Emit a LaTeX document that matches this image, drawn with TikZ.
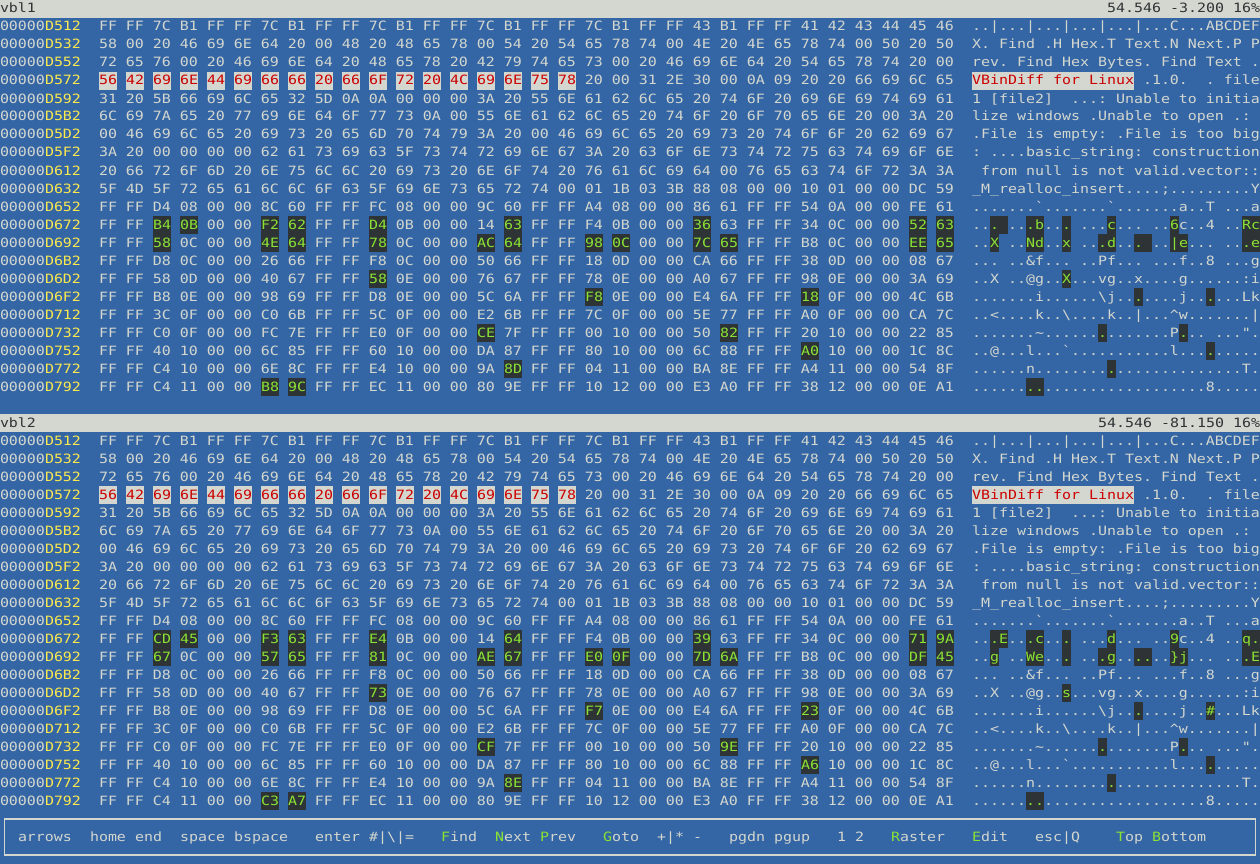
\documentclass[tikz,border=0pt]{standalone}
\usepackage{fontspec}
\setmonofont[FakeStretch=1.1679]{DejaVu Sans Mono}

\definecolor{termblue}{RGB}{52,101,164}
\definecolor{termfg}{RGB}{211,215,207}
\definecolor{termyellow}{RGB}{252,233,79}
\definecolor{difgreen}{RGB}{138,226,52}
\definecolor{difdark}{RGB}{46,52,54}
\definecolor{hitred}{RGB}{204,0,0}

% one dump line: pane offset, row, address, bytes, characters
\newcommand{\hexrow}[5]{%
  \node (adr-#3-#1) [term] at (0,{18*(#1+#2)+13}) {00000\textcolor{termyellow}{#3}};
  \node (hex-#3-#1) [term] at (99,{18*(#1+#2)+13}) {#4};
  \node (asc-#3-#1) [term] at (972,{18*(#1+#2)+13}) {#5};}

% a byte that differs: screen row, column, byte, character
\newcommand{\difcell}[4]{%
  \fill[difbg] ({99+27*#2},{18*#1}) rectangle +(18,18);
  \node (dh-#1-#2) [term, text=difgreen] at ({99+27*#2},{18*#1+13}) {#3};
  \fill[difbg] ({972+9*#2},{18*#1}) rectangle +(9,18);
  \node (da-#1-#2) [term, text=difgreen] at ({972+9*#2},{18*#1+13}) {#4};}

\newcommand{\hot}[1]{\textcolor{difgreen}{#1}}

\begin{document}
\begin{tikzpicture}[
    x=1pt, y=-1pt, % one unit per screen pixel, rows go down
    term/.style={font=\ttfamily\fontsize{12.8pt}{18pt}\selectfont\frenchspacing,
      text=termfg, anchor=base west, inner sep=0pt, outer sep=0pt}, % terminal text
    difbg/.style={fill=difdark}, % differing bytes
    hitbg/.style={fill=termfg}, % search match
    headbar/.style={fill=termfg}, % file title lines
    boxline/.style={draw=termfg, line width=1.2pt} % key help frame
  ]
    \useasboundingbox (0,0) rectangle (1260,864);
    \fill[termblue] (0,0) rectangle (1260,864);

    % Title lines
    \fill[headbar] (0,0) rectangle (1260,18);
    \fill[headbar] (0,414) rectangle (1260,432);
    \node (name1) [term, text=difdark] at (0,13)     {vbl1};
    \node (pos1)  [term, text=difdark] at (1107,13)  {54.546 -3.200 16\%};
    \node (name2) [term, text=difdark] at (0,427)    {vbl2};
    \node (pos2)  [term, text=difdark] at (1098,427) {54.546 -81.150 16\%};

    % Dump lines, the same in both panes
    \foreach \p in {0,23} {
      \hexrow{\p}{1}{D512}{FF FF 7C B1 FF FF 7C B1 FF FF 7C B1 FF FF 7C B1 FF FF 7C B1 FF FF 43 B1 FF FF 41 42 43 44 45 46}{..|...|...|...|...|...C...ABCDEF}
      \hexrow{\p}{2}{D532}{58 00 20 46 69 6E 64 20 00 48 20 48 65 78 00 54 20 54 65 78 74 00 4E 20 4E 65 78 74 00 50 20 50}{X. Find .H Hex.T Text.N Next.P P}
      \hexrow{\p}{3}{D552}{72 65 76 00 20 46 69 6E 64 20 48 65 78 20 42 79 74 65 73 00 20 46 69 6E 64 20 54 65 78 74 20 00}{rev. Find Hex Bytes. Find Text .}
      \hexrow{\p}{4}{D572}{56 42 69 6E 44 69 66 66 20 66 6F 72 20 4C 69 6E 75 78 20 00 31 2E 30 00 0A 09 20 20 66 69 6C 65}{VBinDiff for Linux .1.0.~~.~file}
      \hexrow{\p}{5}{D592}{31 20 5B 66 69 6C 65 32 5D 0A 0A 00 00 00 3A 20 55 6E 61 62 6C 65 20 74 6F 20 69 6E 69 74 69 61}{1 [file2]~~...: Unable to initia}
      \hexrow{\p}{6}{D5B2}{6C 69 7A 65 20 77 69 6E 64 6F 77 73 0A 00 55 6E 61 62 6C 65 20 74 6F 20 6F 70 65 6E 20 00 3A 20}{lize windows .Unable to open .:}
      \hexrow{\p}{7}{D5D2}{00 46 69 6C 65 20 69 73 20 65 6D 70 74 79 3A 20 00 46 69 6C 65 20 69 73 20 74 6F 6F 20 62 69 67}{.File is empty: .File is too big}
      \hexrow{\p}{8}{D5F2}{3A 20 00 00 00 00 62 61 73 69 63 5F 73 74 72 69 6E 67 3A 20 63 6F 6E 73 74 72 75 63 74 69 6F 6E}{: ....basic\_string: construction}
      \hexrow{\p}{9}{D612}{20 66 72 6F 6D 20 6E 75 6C 6C 20 69 73 20 6E 6F 74 20 76 61 6C 69 64 00 76 65 63 74 6F 72 3A 3A}{~from null is not valid.vector::}
      \hexrow{\p}{10}{D632}{5F 4D 5F 72 65 61 6C 6C 6F 63 5F 69 6E 73 65 72 74 00 01 1B 03 3B 88 08 00 00 10 01 00 00 DC 59}{\_M\_realloc\_insert....;.........Y}
      \hexrow{\p}{11}{D652}{FF FF D4 08 00 00 8C 60 FF FF FC 08 00 00 9C 60 FF FF A4 08 00 00 86 61 FF FF 54 0A 00 00 FE 61}{.......`.......`.......a..T ...a}
      \hexrow{\p}{12}{D672}{FF FF B4 0B 00 00 F2 62 FF FF D4 0B 00 00 14 63 FF FF F4 0B 00 00 36 63 FF FF 34 0C 00 00 52 63}{... ...b... ...c... ..6c..4 ..Rc}
      \hexrow{\p}{13}{D692}{FF FF 58 0C 00 00 4E 64 FF FF 78 0C 00 00 AC 64 FF FF 98 0C 00 00 7C 65 FF FF B8 0C 00 00 EE 65}{..X ..Nd..x ...d... ..|e... ...e}
      \hexrow{\p}{14}{D6B2}{FF FF D8 0C 00 00 26 66 FF FF F8 0C 00 00 50 66 FF FF 18 0D 00 00 CA 66 FF FF 38 0D 00 00 08 67}{... ..\&f... ..Pf... ...f..8 ...g}
      \hexrow{\p}{15}{D6D2}{FF FF 58 0D 00 00 40 67 FF FF 58 0E 00 00 76 67 FF FF 78 0E 00 00 A0 67 FF FF 98 0E 00 00 3A 69}{..X ..@g..X...vg..x....g......:i}
      \hexrow{\p}{16}{D6F2}{FF FF B8 0E 00 00 98 69 FF FF D8 0E 00 00 5C 6A FF FF F8 0E 00 00 E4 6A FF FF 18 0F 00 00 4C 6B}{.......i......\textbackslash{}j.......j......Lk}
      \hexrow{\p}{17}{D712}{FF FF 3C 0F 00 00 C0 6B FF FF 5C 0F 00 00 E2 6B FF FF 7C 0F 00 00 5E 77 FF FF A0 0F 00 00 CA 7C}{..<....k..\textbackslash{}....k..|...\textasciicircum{}w.......|}
      \hexrow{\p}{18}{D732}{FF FF C0 0F 00 00 FC 7E FF FF E0 0F 00 00 CE 7F FF FF 00 10 00 00 50 82 FF FF 20 10 00 00 22 85}{.......\textasciitilde{}..............P... ...".}
      \hexrow{\p}{19}{D752}{FF FF 40 10 00 00 6C 85 FF FF 60 10 00 00 DA 87 FF FF 80 10 00 00 6C 88 FF FF A0 10 00 00 1C 8C}{..@...l...`...........l.........}
      \hexrow{\p}{20}{D772}{FF FF C4 10 00 00 6E 8C FF FF E4 10 00 00 9A 8D FF FF 04 11 00 00 BA 8E FF FF A4 11 00 00 54 8F}{......n.......................T.}
      \hexrow{\p}{21}{D792}{FF FF C4 11 00 00 B8 9C FF FF EC 11 00 00 80 9E FF FF 10 12 00 00 E3 A0 FF FF 38 12 00 00 0E A1}{..........................8.....}
    }

    % Search match
    \foreach \p in {0,23} {
      \foreach \by [count=\i from 0] in {56,42,69,6E,44,69,66,66,20,66,6F,72,20,4C,69,6E,75,78} {
        \fill[hitbg] ({99+27*\i},{18*(\p+4)}) rectangle +(18,18);
        \node (hit-\p-\i) [term, text=hitred] at ({99+27*\i},{18*(\p+4)+13}) {\by};
      }
      \fill[hitbg] (972,{18*(\p+4)}) rectangle +(162,18);
      \node (hit-\p) [term, text=hitred] at (972,{18*(\p+4)+13}) {VBinDiff for Linux};
    }

    % Differences, top pane
    \foreach \row/\col/\by/\ch in {12/2/B4/., 12/3/0B/{}, 12/6/F2/., 12/7/62/b, 12/10/D4/., 12/15/63/c,
        12/22/36/6, 12/30/52/R, 12/31/63/c,
        13/2/58/X, 13/6/4E/N, 13/7/64/d, 13/10/78/x, 13/14/AC/., 13/15/64/d, 13/18/98/., 13/19/0C/{},
        13/22/7C/|, 13/23/65/e, 13/30/EE/., 13/31/65/e,
        15/10/58/X, 16/18/F8/., 16/26/18/., 18/14/CE/., 18/23/82/., 19/26/A0/., 20/15/8D/.,
        21/6/B8/., 21/7/9C/.}
      {\difcell{\row}{\col}{\by}{\ch}}

    % Differences, bottom pane
    \foreach \row/\col/\by/\ch in {35/2/CD/., 35/3/45/E, 35/6/F3/., 35/7/63/c, 35/10/E4/., 35/15/64/d,
        35/22/39/9, 35/30/71/q, 35/31/9A/.,
        36/2/67/g, 36/6/57/W, 36/7/65/e, 36/10/81/., 36/14/AE/., 36/15/67/g, 36/18/E0/., 36/19/0F/.,
        36/22/7D/\}, 36/23/6A/j, 36/30/DF/., 36/31/45/E,
        38/10/73/s, 39/18/F7/., 39/26/23/\#, 41/14/CF/., 41/23/9E/., 42/26/A6/., 43/15/8E/.,
        44/6/C3/., 44/7/A7/.}
      {\difcell{\row}{\col}{\by}{\ch}}

    % Key help line
    \draw[boxline] (4.5,819) rectangle (1255.5,855);
    \foreach \col/\word in {2/arrows, 10/home, 15/end, 20/space, 26/bspace, 35/enter,
        41/\#|\textbackslash|=, 49/\hot{F}ind, 55/\hot{N}ext, 60/\hot{P}rev, 67/\hot{G}oto,
        73/+|* -, 81/pgdn, 86/pgup, 93/1 2, 99/\hot{R}aster, 108/\hot{E}dit, 115/esc|Q,
        124/\hot{T}op, 128/\hot{B}ottom}
      \node (key-\col) [term] at ({9*\col},841) {\word};
\end{tikzpicture}
\end{document}
